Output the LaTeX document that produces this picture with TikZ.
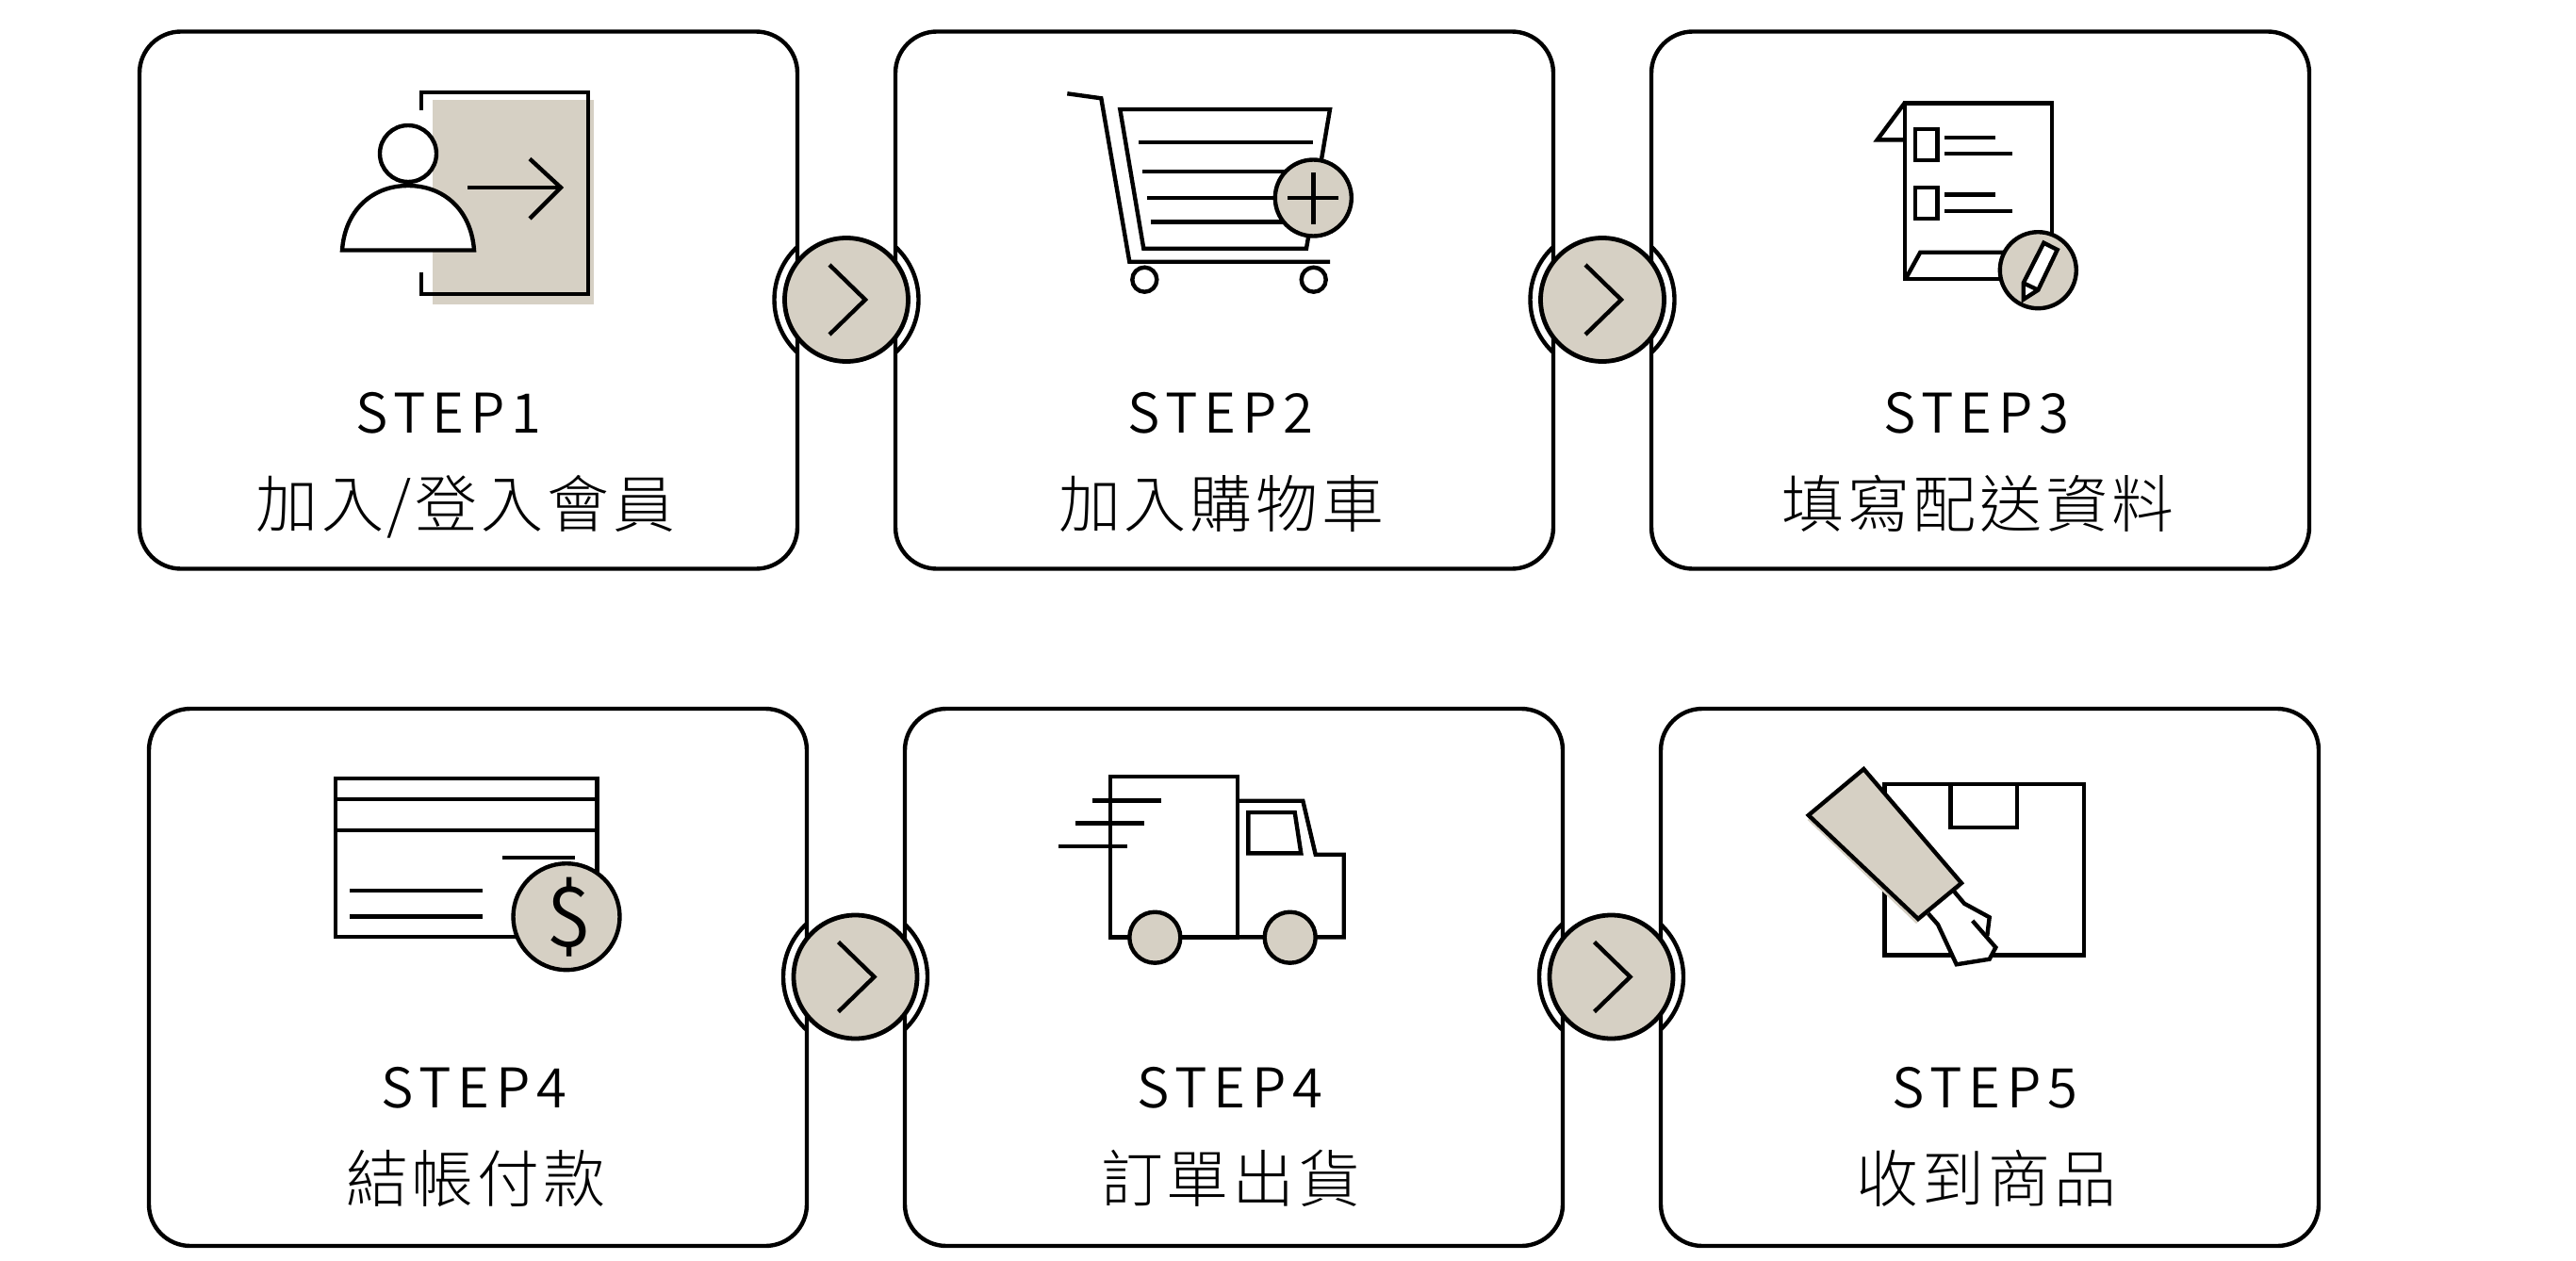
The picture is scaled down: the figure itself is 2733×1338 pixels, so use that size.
\documentclass[tikz,border=0pt]{standalone}
\usepackage{fontspec}
\usetikzlibrary{calc}
\newfontfamily\steplatin[LetterSpace=12]{Noto Sans CJK TC DemiLight}
\newfontfamily\stepcjk[LetterSpace=6]{Noto Sans CJK TC Light}
\newfontfamily\dollarfont{Noto Sans CJK TC DemiLight}
\definecolor{beige}{HTML}{D6D0C4}
\tikzset{
  ink/.style={draw=black,line width=4.4pt,line join=miter},
  card/.style={draw=black,line width=4.4pt,rounded corners=44pt,minimum width=698pt,minimum height=570pt,inner sep=0pt,fill=white},
  roundbtn/.style={circle,draw=black,line width=4.8pt,fill=beige,minimum size=131pt,inner sep=0pt},
  badge/.style={circle,draw=black,line width=4.4pt,fill=beige,inner sep=0pt},
  wheel/.style={circle,draw=black,line width=4.4pt,fill=white,inner sep=0pt,minimum size=26pt},
  steplabel/.style={anchor=base,inner sep=0pt,text=black,font=\steplatin\fontsize{58pt}{60pt}\selectfont},
  titlelabel/.style={anchor=base,inner sep=0pt,text=black,font=\stepcjk\fontsize{66pt}{70pt}\selectfont},
}
% name, x, y, left card right edge, right card left edge
\newcommand{\nextbtn}[5]{%
  \begin{scope}\clip (#2-90,#3-90) rectangle (#4,#3+90);\draw[line width=4.4pt] (#2,#3) circle[radius=76.5];\end{scope}
  \begin{scope}\clip (#5,#3-90) rectangle (#2+90,#3+90);\draw[line width=4.4pt] (#2,#3) circle[radius=76.5];\end{scope}
  \node[roundbtn] (#1) at (#2,#3) {};
  \draw[line width=4.4pt] ([shift={(-18,-37)}]#1.center) -- ([shift={(20,0)}]#1.center) -- ([shift={(-18,37)}]#1.center);
}
\begin{document}
\begin{tikzpicture}[x=1pt,y=-1pt]
\useasboundingbox[fill=white] (0,0) rectangle (2733,1338);
% cards
\node[card] (c1) at (497,318.5) {};
\node[card] (c2) at (1299,318.5) {};
\node[card] (c3) at (2101,318.5) {};
\node[card] (c4) at (507,1037) {};
\node[card] (c5) at (1309,1037) {};
\node[card] (c6) at (2111,1037) {};
% next buttons
\nextbtn{b1}{898}{318}{846}{950}
\nextbtn{b2}{1700}{318}{1648}{1752}
\nextbtn{b3}{907.5}{1036.5}{856}{960}
\nextbtn{b4}{1709.5}{1036.5}{1658}{1762}
% labels
\node[steplabel] (s1) at (476,459) {STEP1};
\node[titlelabel] (t1) at (494,559) {加入/登入會員};
\node[steplabel] (s2) at (1295,459) {STEP2};
\node[titlelabel] (t2) at (1296,559) {加入購物車};
\node[steplabel] (s3) at (2097,459) {STEP3};
\node[titlelabel] (t3) at (2098.5,559) {填寫配送資料};
\node[steplabel] (s4) at (503,1175) {STEP4};
\node[titlelabel] (t4) at (505,1275.5) {結帳付款};
\node[steplabel] (s5) at (1305,1175) {STEP4};
\node[titlelabel] (t5) at (1306,1275.5) {訂單出貨};
\node[steplabel] (s6) at (2106,1175) {STEP5};
\node[titlelabel] (t6) at (2107.5,1275.5) {收到商品};
\begin{scope}[yshift=-1pt]
% icon 1: person entering
\fill[beige] (459,105) rectangle (630,321.5);
\draw[ink] (447,116) -- (447,97) -- (624,97) -- (624,311) -- (447,311) -- (447,288);
\draw[ink,fill=white] (363,264.5) .. controls (366,222) and (395,196) .. (433,196) .. controls (471,196) and (500,222) .. (503,264.5) -- cycle;
\draw[ink,fill=white] (433,162) circle[radius=30];
\draw[ink] (496,198) -- (595,198);
\draw[ink] (562,167.5) -- (595,198) -- (562,231);
% icon 2: cart
\draw[ink] (1132.3,98.3) -- (1168.3,103.3) -- (1198.3,276.7) -- (1411,276.7);
\draw[ink] (1188.3,115) -- (1411,115) -- (1386,262.7) -- (1213.3,262.7) -- cycle;
\draw[ink] (1208.3,149.7) -- (1393.3,149.7);
\draw[ink] (1212.3,180.7) -- (1380,180.7);
\draw[ink] (1216.7,209) -- (1380,209);
\draw[ink] (1220.7,234.3) -- (1380,234.3);
\node[badge,minimum size=81pt] (plus) at (1393.3,209) {};
\draw[ink] ([xshift=-27pt]plus.center) -- ([xshift=27pt]plus.center);
\draw[ink] ([yshift=-27.5pt]plus.center) -- ([yshift=27.5pt]plus.center);
\node[wheel] (w1) at (1214.3,295.7) {};
\node[wheel] (w2) at (1393.7,295.7) {};
% icon 3: form
\draw[ink] (2020.7,108.3) -- (1991.7,147.3) -- (2020.7,147.3);
\draw[ink] (2020.7,108.3) -- (2176.7,108.3) -- (2176.7,295) -- (2020.7,295) -- cycle;
\draw[ink] (2021.7,295) -- (2037.3,266.7) -- (2140,266.7);
\draw[ink] (2032,136) rectangle (2055.3,169);
\draw[ink] (2032,197.7) rectangle (2055.3,230.7);
\draw[ink] (2063.3,145) -- (2116.7,145);
\draw[ink] (2063.3,162) -- (2135,162);
\draw[ink] (2063.3,205.3) -- (2116.7,205.3);
\draw[ink] (2063.3,222.7) -- (2135,222.7);
\node[badge,minimum size=81pt] (pen) at (2162.3,285.7) {};
\draw[ink,fill=white] (2168.3,256.7) -- (2182.7,264) -- (2162.3,306.7) -- (2146.7,316.7) -- (2146.7,299.3) -- cycle;
\draw[ink] (2146.7,299.3) -- (2162.3,306.7);
% icon 4: card
\draw[ink] (356,824.7) rectangle (633.3,992.7);
\draw[ink] (356,846.7) -- (633.3,846.7);
\draw[ink] (356,880) -- (633.3,880);
\draw[ink] (533,908.7) -- (610,908.7);
\draw[ink] (371,944) -- (511.7,944);
\draw[ink] (371,971.3) -- (511.7,971.3);
\node[badge,minimum size=113pt] (coin) at (601,971.7) {};
\node[inner sep=0pt,text=black,font=\dollarfont\fontsize{88pt}{88pt}\selectfont] (dollar) at (604,971.7) {\$};
% icon 5: truck
\draw[ink] (1177.7,822.7) rectangle (1312.7,993.3);
\draw[ink] (1312.7,848.7) -- (1382.3,848.7) -- (1395.7,905.7) -- (1425.7,905.7) -- (1425.7,993.3) -- (1312.7,993.3);
\draw[ink] (1324.3,861) -- (1373.7,861) -- (1380.3,904.3) -- (1324.3,904.3) -- cycle;
\draw[ink] (1159.3,848.3) -- (1232,848.3);
\draw[ink] (1141.3,872.3) -- (1214,872.3);
\draw[ink] (1123.3,896.7) -- (1196,896.7);
\node[badge,minimum size=54pt] (tw1) at (1225.3,993.7) {};
\node[badge,minimum size=54pt] (tw2) at (1368.7,993.7) {};
% icon 6: parcel and tape
\draw[ink] (1999.3,831) rectangle (2211,1012.3);
\draw[ink] (2069.3,831) rectangle (2140,876.7);
\fill[beige] (1917.7,869) -- (1976,820) -- (2080,941) -- (2033,979) -- cycle;
\fill[white] (2073.3,945) -- (2084,957.7) -- (2110.7,972.3) -- (2108.3,991.7) -- (2117.3,1004.3) -- (2110.7,1016.7) -- (2075.7,1022.3) -- (2056,980) -- (2045.7,968.3) -- cycle;
\draw[ink] (2073.3,945) -- (2084,957.7) -- (2110.7,972.3) -- (2108.3,991.7);
\draw[ink] (2092.7,976) -- (2117.3,1004.3) -- (2110.7,1016.7) -- (2075.7,1022.3) -- (2056,980) -- (2045.7,968.3);
\draw[ink,fill=beige] (1977.3,815) -- (2081,936) -- (2035,974) -- (1918.7,864) -- cycle;
\end{scope}
\end{tikzpicture}
\end{document}
